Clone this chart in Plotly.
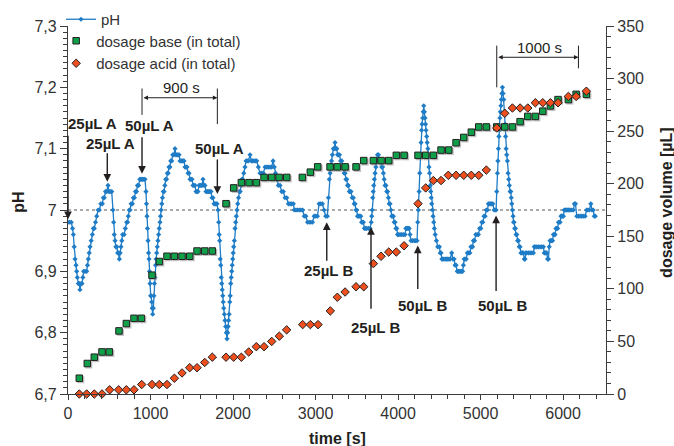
import plotly.graph_objects as go

# pH log: (time [s], pH)
ph_readings = [
    (0, 6.98), (20, 6.98), (40, 6.98), (55, 6.97), (65, 6.96), (75, 6.94), (85, 6.92), (97, 6.91), (105, 6.90), (113, 6.89),
    (125, 6.88), (137, 6.88), (145, 6.87), (158, 6.88), (170, 6.88), (180, 6.89), (190, 6.90), (206, 6.90), (226, 6.90), (236, 6.91),
    (246, 6.92), (257, 6.93), (267, 6.94), (281, 6.95), (295, 6.96), (307, 6.97), (319, 6.97), (333, 6.98), (348, 6.99), (365, 7.00),
    (380, 7.00), (398, 7.01), (416, 7.01), (428, 7.02), (440, 7.02), (455, 7.03), (469, 7.03), (485, 7.04), (497, 7.03), (512, 7.03),
    (530, 7.03), (545, 7.00), (553, 6.98), (560, 6.96), (570, 6.95), (580, 6.94), (592, 6.94), (602, 6.93), (612, 6.93), (622, 6.92),
    (632, 6.93), (642, 6.94), (652, 6.95), (662, 6.96), (680, 6.96), (695, 6.97), (711, 6.98), (722, 6.98), (731, 6.99), (742, 7.00),
    (752, 7.00), (765, 7.01), (780, 7.01), (792, 7.02), (805, 7.02), (818, 7.03), (830, 7.03), (842, 7.04), (855, 7.04), (870, 7.05),
    (882, 7.05), (893, 7.05), (905, 7.05), (920, 7.05), (933, 7.05), (945, 7.03), (951, 7.01), (957, 6.99), (963, 6.97), (970, 6.95),
    (976, 6.93), (982, 6.92), (988, 6.90), (994, 6.88), (1002, 6.86), (1008, 6.86), (1014, 6.85), (1020, 6.84), (1026, 6.83), (1034, 6.84),
    (1041, 6.86), (1047, 6.88), (1055, 6.89), (1061, 6.91), (1068, 6.92), (1075, 6.93), (1082, 6.94), (1090, 6.95), (1098, 6.96), (1106, 6.97),
    (1115, 6.98), (1122, 6.99), (1130, 7.00), (1137, 7.01), (1145, 7.02), (1155, 7.03), (1164, 7.03), (1174, 7.04), (1184, 7.05), (1194, 7.05),
    (1204, 7.06), (1214, 7.06), (1224, 7.07), (1235, 7.07), (1245, 7.08), (1257, 7.08), (1269, 7.09), (1283, 7.09), (1297, 7.10), (1309, 7.09),
    (1322, 7.09), (1334, 7.09), (1346, 7.09), (1358, 7.08), (1370, 7.08), (1382, 7.08), (1394, 7.08), (1406, 7.08), (1418, 7.07), (1430, 7.07),
    (1442, 7.07), (1455, 7.06), (1467, 7.06), (1479, 7.05), (1491, 7.05), (1503, 7.05), (1515, 7.04), (1527, 7.04), (1539, 7.04), (1551, 7.03),
    (1563, 7.03), (1575, 7.03), (1588, 7.04), (1600, 7.04), (1612, 7.04), (1624, 7.04), (1636, 7.05), (1648, 7.04), (1660, 7.04), (1672, 7.03),
    (1685, 7.03), (1697, 7.03), (1709, 7.03), (1721, 7.03), (1733, 7.03), (1745, 7.02), (1757, 7.02), (1770, 7.01), (1782, 7.01), (1794, 7.01),
    (1806, 7.01), (1818, 7.00), (1826, 6.98), (1832, 6.96), (1838, 6.95), (1845, 6.92), (1851, 6.91), (1857, 6.89), (1863, 6.88), (1869, 6.87),
    (1875, 6.86), (1881, 6.85), (1887, 6.84), (1895, 6.83), (1903, 6.82), (1911, 6.81), (1919, 6.80), (1927, 6.79), (1935, 6.80), (1941, 6.81),
    (1947, 6.82), (1953, 6.83), (1960, 6.85), (1966, 6.86), (1972, 6.88), (1978, 6.89), (1984, 6.90), (1990, 6.91), (1996, 6.92), (2002, 6.93),
    (2008, 6.94), (2016, 6.95), (2024, 6.97), (2032, 6.98), (2040, 6.99), (2048, 7.00), (2057, 7.01), (2067, 7.02), (2077, 7.03), (2087, 7.03),
    (2097, 7.04), (2107, 7.05), (2117, 7.05), (2130, 7.06), (2145, 7.07), (2158, 7.08), (2170, 7.08), (2186, 7.08), (2206, 7.09), (2222, 7.08),
    (2238, 7.08), (2254, 7.08), (2270, 7.08), (2287, 7.08), (2307, 7.07), (2327, 7.06), (2347, 7.06), (2367, 7.06), (2388, 7.07), (2408, 7.07),
    (2428, 7.07), (2448, 7.07), (2468, 7.07), (2485, 7.08), (2500, 7.07), (2515, 7.06), (2529, 7.05), (2549, 7.04), (2570, 7.04), (2590, 7.03),
    (2610, 7.03), (2630, 7.02), (2651, 7.02), (2671, 7.01), (2691, 7.01), (2711, 7.01), (2731, 7.01), (2743, 7.00), (2763, 7.00), (2783, 7.00),
    (2803, 7.00), (2823, 7.00), (2843, 7.00), (2863, 6.99), (2883, 6.99), (2903, 6.98), (2923, 6.98), (2943, 6.98), (2963, 6.98), (2983, 6.99),
    (3003, 6.99), (3023, 6.99), (3043, 7.01), (3063, 7.01), (3083, 7.01), (3103, 7.00), (3123, 6.99), (3143, 6.99), (3156, 7.02), (3167, 7.05),
    (3176, 7.06), (3184, 7.07), (3194, 7.08), (3204, 7.09), (3216, 7.10), (3228, 7.10), (3236, 7.11), (3247, 7.10), (3257, 7.10), (3267, 7.09),
    (3277, 7.09), (3290, 7.09), (3304, 7.08), (3317, 7.08), (3327, 7.07), (3337, 7.07), (3347, 7.06), (3358, 7.06), (3368, 7.05), (3378, 7.05),
    (3388, 7.04), (3398, 7.04), (3410, 7.03), (3420, 7.03), (3430, 7.03), (3444, 7.02), (3458, 7.02), (3468, 7.01), (3479, 7.01), (3489, 7.00),
    (3499, 7.00), (3509, 6.99), (3519, 6.99), (3534, 6.99), (3548, 6.99), (3558, 6.98), (3568, 6.98), (3580, 6.98), (3592, 6.97), (3606, 6.97),
    (3620, 6.97), (3640, 6.97), (3661, 6.97), (3675, 6.98), (3681, 6.99), (3687, 7.00), (3693, 7.02), (3699, 7.03), (3705, 7.04), (3713, 7.05),
    (3721, 7.06), (3731, 7.07), (3741, 7.08), (3751, 7.09), (3762, 7.09), (3772, 7.08), (3782, 7.08), (3792, 7.08), (3802, 7.07), (3812, 7.07),
    (3822, 7.06), (3832, 7.05), (3842, 7.04), (3853, 7.04), (3863, 7.03), (3873, 7.03), (3883, 7.02), (3893, 7.01), (3903, 7.01), (3913, 7.00),
    (3923, 6.99), (3933, 6.99), (3943, 6.99), (3953, 6.98), (3964, 6.98), (3974, 6.97), (3984, 6.97), (3994, 6.96), (4004, 6.96), (4024, 6.96),
    (4044, 6.96), (4064, 6.96), (4085, 6.96), (4095, 6.97), (4105, 6.97), (4115, 6.97), (4125, 6.97), (4135, 6.97), (4145, 6.96), (4157, 6.95),
    (4177, 6.95), (4197, 6.95), (4214, 6.95), (4230, 6.95), (4238, 6.98), (4247, 7.00), (4255, 7.03), (4263, 7.06), (4271, 7.09), (4279, 7.11),
    (4285, 7.13), (4291, 7.14), (4299, 7.15), (4305, 7.16), (4311, 7.17), (4319, 7.16), (4327, 7.15), (4333, 7.14), (4339, 7.13), (4347, 7.12),
    (4353, 7.11), (4361, 7.10), (4367, 7.09), (4375, 7.07), (4382, 7.06), (4390, 7.04), (4396, 7.03), (4402, 7.02), (4408, 7.01), (4416, 7.00),
    (4424, 6.99), (4432, 6.98), (4440, 6.97), (4450, 6.96), (4465, 6.95), (4481, 6.94), (4501, 6.94), (4511, 6.93), (4521, 6.93), (4531, 6.92),
    (4541, 6.92), (4556, 6.92), (4571, 6.92), (4586, 6.92), (4601, 6.92), (4616, 6.92), (4631, 6.92), (4650, 6.93), (4665, 6.92), (4679, 6.92),
    (4691, 6.91), (4703, 6.91), (4717, 6.90), (4731, 6.90), (4745, 6.90), (4760, 6.90), (4772, 6.90), (4782, 6.90), (4792, 6.91), (4802, 6.92),
    (4812, 6.92), (4826, 6.92), (4840, 6.93), (4855, 6.93), (4870, 6.93), (4883, 6.94), (4893, 6.94), (4903, 6.94), (4913, 6.95), (4927, 6.95),
    (4942, 6.96), (4958, 6.96), (4974, 6.96), (4988, 6.97), (5003, 6.97), (5015, 6.98), (5027, 6.98), (5041, 6.99), (5055, 6.99), (5069, 7.00),
    (5083, 7.00), (5095, 7.01), (5110, 7.01), (5124, 7.01), (5136, 7.01), (5148, 7.01), (5164, 7.00), (5176, 7.00), (5188, 7.00), (5196, 7.03),
    (5204, 7.06), (5210, 7.08), (5216, 7.10), (5222, 7.12), (5228, 7.13), (5234, 7.15), (5240, 7.16), (5246, 7.17), (5252, 7.18), (5258, 7.19),
    (5265, 7.20), (5273, 7.19), (5281, 7.18), (5289, 7.16), (5297, 7.14), (5303, 7.12), (5309, 7.10), (5317, 7.09), (5325, 7.08), (5333, 7.06),
    (5341, 7.05), (5349, 7.04), (5358, 7.03), (5366, 7.03), (5372, 7.02), (5378, 7.01), (5386, 7.00), (5394, 6.99), (5400, 6.98), (5406, 6.98),
    (5414, 6.97), (5422, 6.97), (5430, 6.96), (5439, 6.96), (5449, 6.95), (5459, 6.95), (5469, 6.94), (5479, 6.94), (5489, 6.93), (5499, 6.93),
    (5510, 6.93), (5520, 6.93), (5530, 6.92), (5539, 6.92), (5549, 6.93), (5559, 6.93), (5580, 6.93), (5600, 6.93), (5620, 6.93), (5640, 6.93),
    (5651, 6.94), (5661, 6.94), (5681, 6.94), (5701, 6.94), (5721, 6.94), (5741, 6.94), (5761, 6.94), (5772, 6.93), (5782, 6.93), (5792, 6.93),
    (5802, 6.93), (5812, 6.92), (5822, 6.92), (5832, 6.94), (5842, 6.95), (5852, 6.95), (5862, 6.95), (5872, 6.95), (5883, 6.96), (5893, 6.96),
    (5903, 6.96), (5913, 6.97), (5924, 6.97), (5934, 6.97), (5944, 6.98), (5954, 6.98), (5964, 6.98), (5974, 6.99), (5984, 6.99), (5994, 6.99),
    (6004, 6.99), (6014, 7.00), (6025, 7.00), (6035, 7.00), (6045, 7.00), (6055, 7.00), (6065, 7.00), (6075, 7.00), (6085, 7.00), (6105, 7.00),
    (6125, 7.00), (6137, 7.01), (6150, 7.01), (6166, 6.99), (6185, 6.99), (6205, 6.99), (6225, 6.99), (6245, 6.99), (6267, 6.99), (6285, 7.00),
    (6300, 7.00), (6318, 7.00), (6336, 7.01), (6350, 7.00), (6365, 7.00), (6378, 6.99), (6390, 6.99),
]
ph_time = [t for t, _ in ph_readings]
ph_value = [v for _, v in ph_readings]

# cumulative base dosage [µL]
base_time = [137, 234, 319, 412, 501, 618, 707, 800, 889, 1018, 1107, 1200, 1289, 1382, 1475, 1564, 1657, 1749,
             1915, 2008, 2101, 2194, 2282, 2376, 2469, 2558, 2651, 2840, 2937, 3026, 3176, 3264, 3358, 3491,
             3584, 3701, 3794, 3887, 3979, 4073, 4242, 4335, 4428, 4521, 4614, 4703, 4796, 4888, 4978, 5070,
             5196, 5293, 5386, 5479, 5572, 5664, 5754, 5846, 5939, 6064, 6158, 6282]
base_volume = [15, 29, 35, 40, 40, 60, 67, 72, 72, 113, 126, 131, 131, 131, 131, 136, 136, 136,
               181, 196, 201, 201, 201, 206, 206, 206, 206, 206, 211, 216, 216, 216, 216, 216,
               222, 222, 222, 222, 227, 227, 227, 227, 227, 232, 232, 239, 244, 249, 254, 254,
               254, 254, 254, 259, 264, 264, 269, 274, 280, 280, 285, 285]

# cumulative acid dosage [µL]
acid_time = [137, 226, 319, 412, 505, 614, 707, 800, 893, 1018, 1107, 1200, 1289, 1382, 1475, 1564, 1657, 1749,
             1915, 2008, 2101, 2190, 2282, 2376, 2469, 2561, 2650, 2844, 2937, 3030, 3179, 3264, 3358, 3491,
             3584, 3701, 3794, 3887, 3979, 4073, 4242, 4335, 4428, 4521, 4609, 4703, 4796, 4888, 4978, 5070,
             5196, 5293, 5386, 5479, 5572, 5664, 5754, 5846, 5939, 6064, 6158, 6282]
acid_volume = [0, 0, 0, 0, 4, 4, 4, 4, 9, 9, 9, 9, 15, 20, 25, 25, 30, 35,
               35, 35, 35, 40, 45, 45, 50, 55, 61, 66, 66, 66, 79, 92, 97, 102,
               102, 124, 131, 135, 135, 141, 181, 196, 203, 203, 208, 208, 208, 208, 208, 213,
               253, 267, 272, 272, 272, 277, 277, 277, 277, 283, 283, 288]

# manual dosing events: label, time [s], pH the arrow points at
dose_label = ["25µL A", "25µL A", "50µL A", "50µL A", "25µL B", "25µL B", "50µL B", "50µL B"]
dose_time = [0, 476, 897, 1810, 3136, 3672, 4239, 5188]
dose_ph = [6.985, 7.046, 7.059, 7.026, 6.98, 6.972, 6.942, 6.991]

# response intervals marked with brackets
interval_label = ["900 s", "1000 s"]
interval_start = [897, 5196]
interval_end = [1810, 6186]

ph_ticks = [6.7, 6.8, 6.9, 7.0, 7.1, 7.2, 7.3]
ph_tick_text = ["6,7", "6,8", "6,9", "7", "7,1", "7,2", "7,3"]

BLUE = "#1f7cc6"
GREEN = "#10a04a"
RED = "#ee4f1f"
INK = "#231f20"
AXIS = "#3c3c3c"
FONT = "Liberation Sans, Arial, sans-serif"

fig = go.Figure()

fig.add_trace(go.Scatter(
    x=ph_time, y=ph_value, name="pH", mode="lines+markers", legend="legend",
    line=dict(color=BLUE, width=1.3),
    marker=dict(symbol="diamond", size=4, color=BLUE),
))

# soft drop shadow behind the base squares (about 1.5 px right/down)
shadow_dx = 1.5 * 6520 / 538
shadow_dy = 1.5 * 350 / 368
fig.add_trace(go.Scatter(
    x=[t + shadow_dx for t in base_time], y=[v - shadow_dy for v in base_volume],
    yaxis="y2", mode="markers", showlegend=False, hoverinfo="skip", cliponaxis=False,
    marker=dict(symbol="square", size=7, color="rgba(140,140,140,0.55)", line=dict(width=0)),
))
fig.add_trace(go.Scatter(
    x=base_time, y=base_volume, yaxis="y2", name="dosage base (in total)", mode="markers",
    cliponaxis=False, legend="legend2",
    marker=dict(symbol="square", size=6.5, color=GREEN, line=dict(color=INK, width=1)),
))
fig.add_trace(go.Scatter(
    x=acid_time, y=acid_volume, yaxis="y2", name="dosage acid (in total)", mode="markers",
    cliponaxis=False, legend="legend2",
    marker=dict(symbol="diamond", size=6.5, color=RED, line=dict(color=INK, width=1)),
))

annotations = []
label_font = dict(family=FONT, size=15, color=INK)
# arrow tail offsets and label offsets in pixels (relative to the arrow tip)
arrow_tail = [-85, -30, -38, -36, 40, 83, 45, 77]
label_dx = [24, 3, 7, 2, 2, 4, 5, 6]
label_dy = [-96, -38, -48, -46, 48, 100, 60, 90]
for lab, t, p, tail, dx, dy in zip(dose_label, dose_time, dose_ph, arrow_tail, label_dx, label_dy):
    annotations.append(dict(
        x=t, y=p, xref="x", yref="y", text="", showarrow=True,
        ax=0, ay=tail, arrowhead=2, arrowsize=1.1, arrowwidth=1.4, arrowcolor=INK,
    ))
    annotations.append(dict(
        x=t, y=p, xref="x", yref="y", text="<b>%s</b>" % lab, showarrow=False,
        xshift=dx, yshift=-dy, font=label_font, xanchor="center", yanchor="middle",
    ))

shapes = [dict(type="line", xref="paper", x0=0, x1=1, yref="y", y0=7.0, y1=7.0,
               line=dict(color="#555555", width=1, dash="dot"), layer="below")]

# bracket geometry (pH units): arrow level, top of the end ticks, bottom of each end tick
bracket_level = [7.183, 7.249]
bracket_top = [7.198, 7.268]
bracket_bottom = [(7.155, 7.140), (7.200, 7.231)]
for lab, t0, t1, lvl, top, (b0, b1) in zip(interval_label, interval_start, interval_end,
                                           bracket_level, bracket_top, bracket_bottom):
    shapes.append(dict(type="line", xref="x", yref="y", x0=t0, x1=t0, y0=b0, y1=top,
                       line=dict(color=INK, width=1)))
    shapes.append(dict(type="line", xref="x", yref="y", x0=t1, x1=t1, y0=b1, y1=top,
                       line=dict(color=INK, width=1)))
    annotations.append(dict(
        x=t1, y=lvl, ax=t0, ay=lvl, xref="x", yref="y", axref="x", ayref="y",
        text="", showarrow=True, arrowside="end+start", arrowhead=2, arrowsize=0.9,
        arrowwidth=1, arrowcolor=INK,
    ))
    annotations.append(dict(
        x=(t0 + t1) / 2, y=lvl, xref="x", yref="y", text=lab, showarrow=False,
        yshift=10, xshift=2, font=dict(family=FONT, size=15, color=INK),
    ))

# axis titles
title_font = dict(family=FONT, size=16, color=INK)
annotations += [
    dict(text="<b>pH</b>", xref="paper", yref="paper", x=-0.091, y=0.52, textangle=-90,
         showarrow=False, font=title_font, xanchor="center", yanchor="middle"),
    dict(text="<b>time [s]</b>", xref="paper", yref="paper", x=0.5, y=-0.12,
         showarrow=False, font=title_font, xanchor="center", yanchor="middle"),
    dict(text="<b>dosage volume [µL]</b>", xref="paper", yref="paper", x=1.112, y=0.52,
         textangle=-90, showarrow=False, font=title_font, xanchor="center", yanchor="middle"),
]

tick_font = dict(family=FONT, size=16, color="#333333")
axis_common = dict(showline=True, linecolor=AXIS, linewidth=1.2, ticks="outside", tickcolor=AXIS,
                   tickwidth=1, showgrid=False, zeroline=False, tickfont=tick_font)
legend_common = dict(xanchor="left", yanchor="top", bgcolor="rgba(0,0,0,0)", borderwidth=0,
                     font=dict(family=FONT, size=15, color="#333333"), tracegroupgap=0,
                     itemwidth=30)

fig.update_layout(
    width=674, height=446,
    margin=dict(l=68, r=68, t=26, b=52, autoexpand=False),
    paper_bgcolor="white", plot_bgcolor="white",
    font=dict(family=FONT, color=INK),
    showlegend=True,
    legend=dict(x=-0.013, y=1.0625, **legend_common),
    legend2=dict(x=-0.022, y=1.004, **legend_common),
    xaxis=dict(range=[0, 6520], tick0=0, dtick=1000, ticklen=5,
               minor=dict(tick0=0, dtick=200, ticks="outside", ticklen=4, tickcolor=AXIS),
               **axis_common),
    yaxis=dict(range=[6.7, 7.3], tickmode="array", tickvals=ph_ticks, ticktext=ph_tick_text,
               ticklen=7,
               minor=dict(tick0=6.7, dtick=0.01, ticks="outside", ticklen=4, tickcolor=AXIS),
               **axis_common),
    yaxis2=dict(range=[0, 350], overlaying="y", side="right", tick0=0, dtick=50, ticklen=7,
                minor=dict(tick0=0, dtick=10, ticks="outside", ticklen=4, tickcolor=AXIS),
                **axis_common),
    annotations=annotations,
    shapes=shapes,
)

fig.write_html("out.html")
